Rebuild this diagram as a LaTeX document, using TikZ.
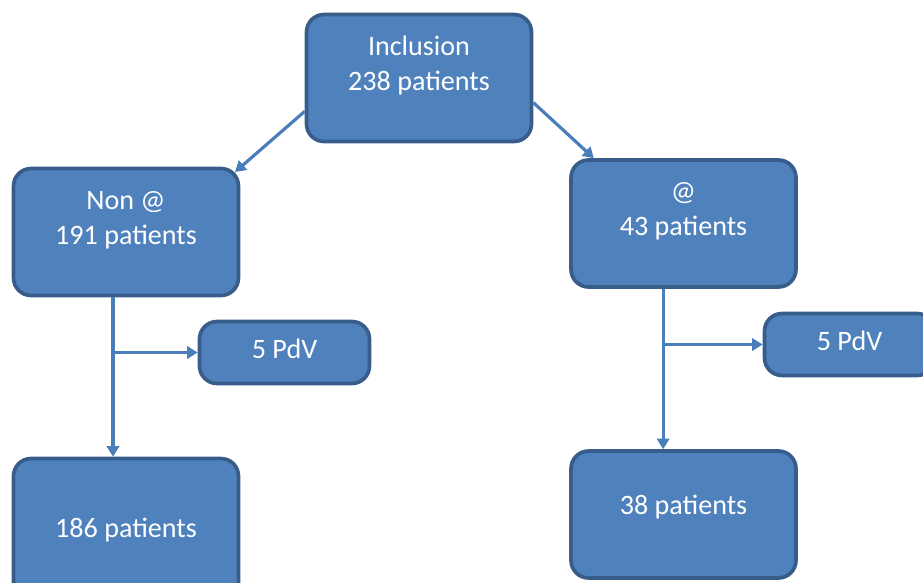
\documentclass[tikz,border=0pt]{standalone}
\usepackage{fontspec}
\setmainfont{Carlito}
\usetikzlibrary{arrows.meta}
\definecolor{boxfill}{HTML}{4F81BD}
\definecolor{boxline}{HTML}{385D8A}
\definecolor{arrowblue}{HTML}{4A7EBB}

\begin{document}
\begin{tikzpicture}[x=0.02cm,y=-0.02cm,
  box/.style={draw=boxline,fill=boxfill,line width=2.1pt,rounded corners=10pt,
    text=white,font=\fontsize{16}{20}\selectfont,align=center,
    minimum width=4.5cm,minimum height=2.54cm},
  twoline/.style={box,text height=31pt,text depth=17pt},
  smallbox/.style={box,minimum width=3.4cm,minimum height=1.24cm,text height=11pt,text depth=4pt},
  arr/.style={draw=arrowblue,line width=1.8pt,-{Triangle[length=6pt,width=7pt]}}]
\useasboundingbox (0,0) rectangle (923,582);
% boxes
\node[twoline] (incl) at (419,78) {Inclusion\\238 patients};
\node[twoline] (nonat) at (126,232) {Non @\\191 patients};
\node[twoline] (at) at (683.5,223.5) {@\\43 patients};
\node[smallbox] (pdvl) at (284.5,352.5) {5 PdV};
\node[smallbox] (pdvr) at (849.5,344.5) {5 PdV};
\node[box,minimum height=3.14cm,text height=11pt,text depth=11pt] (p186) at (126,537) {186 patients};
\node[box,text height=11pt,text depth=11pt] (p38) at (683.5,514.5) {38 patients};
% arrows
\draw[arr] ([yshift=-19pt]incl.west) -- ([xshift=-3pt,yshift=-3pt]nonat.north east);
\draw[arr] ([yshift=-14pt]incl.east) -- ([xshift=14pt]at.north west);
\coordinate (vl) at ([xshift=-7.4pt]nonat.south);
\coordinate (vr) at ([xshift=-11.6pt]at.south);
\draw[arr] (vl) -- (vl |- p186.north);
\draw[arr] (vl |- pdvl.west) -- (pdvl.west);
\draw[arr] (vr) -- (vr |- p38.north);
\draw[arr] (vr |- pdvr.west) -- (pdvr.west);
\end{tikzpicture}
\end{document}
